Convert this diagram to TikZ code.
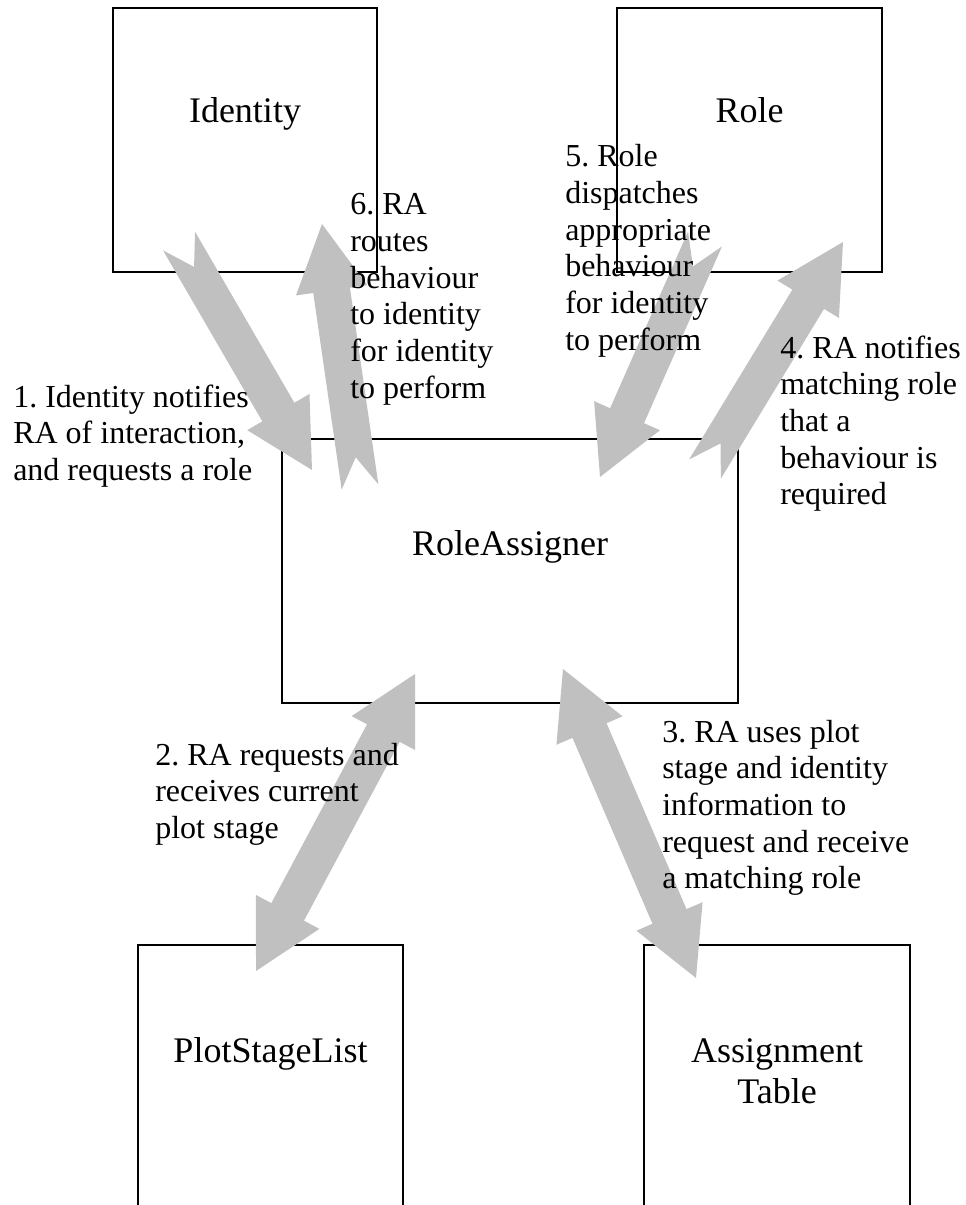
\documentclass[tikz,border=0pt]{standalone}
\usepackage{fontspec}
\setmainfont{Liberation Serif}
\frenchspacing
\definecolor{arrowgray}{RGB}{192,192,192}
% block-arrow geometry (pt)
\def\aw{13.9pt}   % half shaft width
\def\ahw{27pt}    % half head width
\def\ahl{50.25pt} % head length
\def\anotch{22.5pt}% tail notch depth
\newcommand\arsetup[2]{%
  \pgfmathanglebetweenpoints{\pgfpointanchor{#1}{center}}{\pgfpointanchor{#2}{center}}%
  \let\arang\pgfmathresult
  \pgfpointdiff{\pgfpointanchor{#1}{center}}{\pgfpointanchor{#2}{center}}%
  \pgfgetlastxy{\ardx}{\ardy}%
  \pgfmathveclen{\ardx}{\ardy}%
  \let\arlen\pgfmathresult}
\newcommand\singlearrow[2]{\arsetup{#1}{#2}%
  \fill[arrowfill,shift={(#1)},rotate=\arang]
    (0pt,\aw) -- ({\arlen pt-\ahl},\aw) -- ({\arlen pt-\ahl},\ahw) -- (\arlen pt,0pt)
    -- ({\arlen pt-\ahl},-\ahw) -- ({\arlen pt-\ahl},-\aw) -- (0pt,-\aw) -- (\anotch,0pt) -- cycle;}
\newcommand\doublearrow[2]{\arsetup{#1}{#2}%
  \fill[arrowfill,shift={(#1)},rotate=\arang]
    (0pt,0pt) -- (\ahl,\ahw) -- (\ahl,\aw) -- ({\arlen pt-\ahl},\aw) -- ({\arlen pt-\ahl},\ahw)
    -- (\arlen pt,0pt) -- ({\arlen pt-\ahl},-\ahw) -- ({\arlen pt-\ahl},-\aw) -- (\ahl,-\aw)
    -- (\ahl,-\ahw) -- cycle;}
\tikzset{
  arrowfill/.style={fill=arrowgray},
  box/.style={draw=black, line width=1.1pt, rectangle, inner sep=0pt},
  boxtext/.style={anchor=base, inner sep=0pt, font=\fontsize{27}{30.75}\selectfont},
  lbl/.style={anchor=base west, inner sep=0pt, font=\fontsize{24}{27.5}\selectfont},
}
\begin{document}
\begin{tikzpicture}[x=0.75pt,y=-0.75pt]
\useasboundingbox (0,0) rectangle (966,1205);
\clip (0,0) rectangle (966,1205);
% boxes
\node[box, minimum width=198pt, minimum height=198pt] (identity) at (245,140) {};
\node[box, minimum width=198.75pt, minimum height=198pt] (role) at (749.5,140) {};
\node[box, minimum width=342pt, minimum height=198pt] (ra) at (510,571) {};
\node[box, minimum width=198.75pt, minimum height=221.25pt] (psl) at (270.5,1092.5) {};
\node[box, minimum width=199.5pt, minimum height=221.25pt] (at) at (777,1092.5) {};
% box texts
\node[boxtext] (identityT) at (245,123) {Identity};
\node[boxtext] (roleT) at (749.5,123) {Role};
\node[boxtext] (raT) at (510,555) {RoleAssigner};
\node[boxtext] (pslT) at (270.5,1062) {PlotStageList};
\node[boxtext] (atT) at (777,1062) {\begin{tabular}[t]{@{}c@{}}Assignment\\Table\end{tabular}};
% arrow end points
\coordinate (a1t) at (179,241);  \coordinate (a1h) at (312,470);
\coordinate (a6t) at (360,487);  \coordinate (a6h) at (322,224);
\coordinate (a5t) at (705,239);  \coordinate (a5h) at (600,477);
\coordinate (a4t) at (705,469);  \coordinate (a4h) at (843,242);
\coordinate (a2a) at (415,674);  \coordinate (a2b) at (256,971);
\coordinate (a3a) at (563,669);  \coordinate (a3b) at (696,978);
\singlearrow{a1t}{a1h}
\singlearrow{a6t}{a6h}
\singlearrow{a5t}{a5h}
\singlearrow{a4t}{a4h}
\doublearrow{a2a}{a2b}
\doublearrow{a3a}{a3b}
% labels
\node[lbl] (l1) at (13,407) {\begin{tabular}[t]{@{}l@{}}1. Identity notifies\\RA of interaction,\\and requests a role\end{tabular}};
\node[lbl] (l2) at (155,765) {\begin{tabular}[t]{@{}l@{}}2. RA requests and\\receives current\\plot stage\end{tabular}};
\node[lbl] (l3) at (662,742) {\begin{tabular}[t]{@{}l@{}}3. RA uses plot\\stage and identity\\information to\\request and receive\\a matching role\end{tabular}};
\node[lbl] (l4) at (780,358) {\begin{tabular}[t]{@{}l@{}}4. RA notifies\\matching role\\that a\\behaviour is\\required\end{tabular}};
\node[lbl] (l5) at (565,167) {\begin{tabular}[t]{@{}l@{}}5. Role\\dispatches\\appropriate\\behaviour\\for identity\\to perform\end{tabular}};
\node[lbl] (l6) at (350,215) {\begin{tabular}[t]{@{}l@{}}6. RA\\routes\\behaviour\\to identity\\for identity\\to perform\end{tabular}};
\end{tikzpicture}
\end{document}
